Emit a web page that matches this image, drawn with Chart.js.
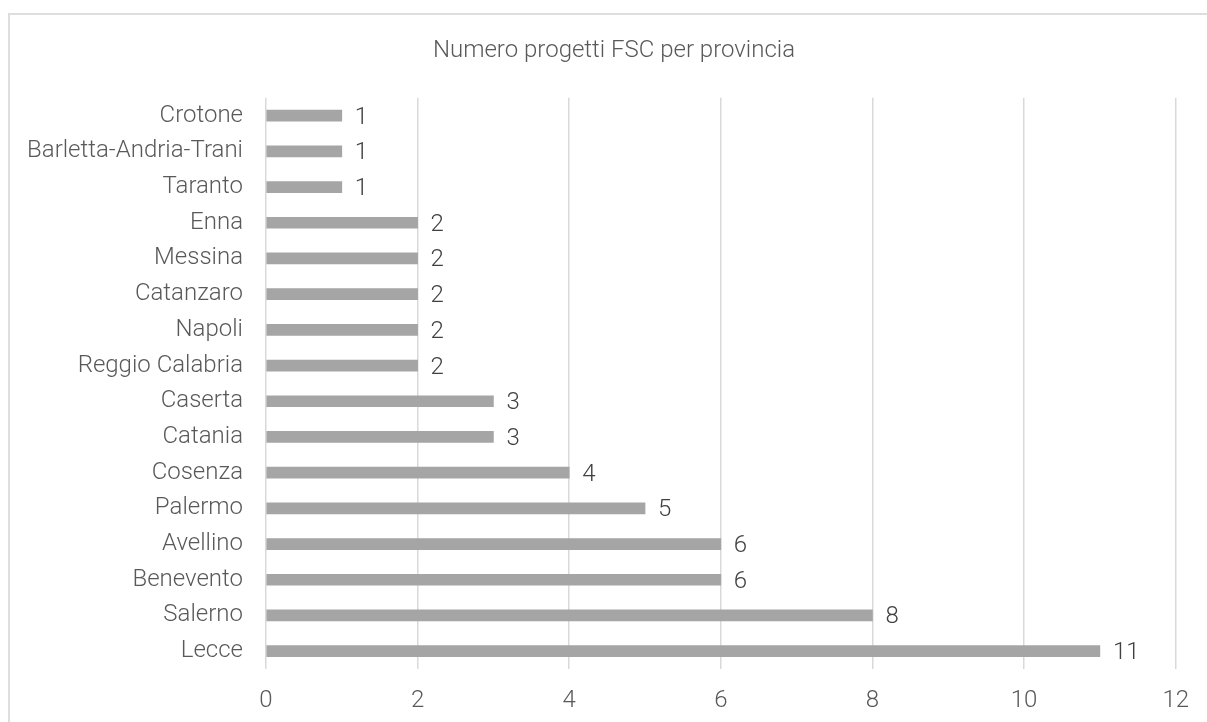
<!DOCTYPE html>
<html>
<head>
<meta charset="utf-8">
<script src="https://cdn.jsdelivr.net/npm/chart.js@4.4.0/dist/chart.umd.min.js"></script>
<style>
  html, body { margin: 0; padding: 0; background: #fff; overflow: hidden; }
  #frame { position: absolute; left: 8px; top: 13px; width: 1230px; height: 740px; border: 2px solid #dedede; }
  #wrap { position: absolute; left: 0; top: 0; width: 1207px; height: 722px; }
</style>
</head>
<body>
<div id="frame"></div>
<div id="wrap"><canvas id="chart" width="1207" height="722"></canvas></div>
<script>
const provinces = ['Crotone', 'Barletta-Andria-Trani', 'Taranto', 'Enna', 'Messina', 'Catanzaro', 'Napoli',
  'Reggio Calabria', 'Caserta', 'Catania', 'Cosenza', 'Palermo', 'Avellino', 'Benevento', 'Salerno', 'Lecce'];
const projects = [1, 1, 1, 2, 2, 2, 2, 2, 3, 3, 4, 5, 6, 6, 8, 11];
const xTicks = [0, 2, 4, 6, 8, 10, 12];
const chartTitle = 'Numero progetti FSC per provincia';

const fontFamily = 'Roboto, "Noto Sans", sans-serif';

// draws the value just right of each bar end
const valueLabels = {
  id: 'valueLabels',
  afterDatasetsDraw(chart) {
    const ctx = chart.ctx;
    const meta = chart.getDatasetMeta(0);
    ctx.save();
    ctx.font = '300 24px ' + fontFamily;
    ctx.fillStyle = '#404040';
    ctx.textAlign = 'left';
    ctx.textBaseline = 'middle';
    meta.data.forEach((bar, i) => {
      ctx.fillText(String(projects[i]), bar.x + 13, bar.y + 2);
    });
    ctx.restore();
  }
};

new Chart(document.getElementById('chart'), {
  type: 'bar',
  data: {
    labels: provinces,
    datasets: [{
      data: projects,
      backgroundColor: '#a5a5a5',
      barThickness: 11
    }]
  },
  options: {
    indexAxis: 'y',
    responsive: false,
    animation: false,
    layout: { padding: { left: 25, right: 4, top: 0, bottom: 0 } },
    plugins: {
      legend: { display: false },
      tooltip: { enabled: false },
      title: {
        display: true,
        text: chartTitle,
        color: '#595959',
        font: { family: fontFamily, size: 24, weight: '300' },
        padding: { top: 37, bottom: 32 }
      }
    },
    scales: {
      x: {
        min: 0,
        max: 12,
        afterBuildTicks(scale) { scale.ticks = xTicks.map(v => ({ value: v })); },
        afterFit(scale) { scale.height = 53; },
        grid: { color: '#d9d9d9', lineWidth: 1.5, drawTicks: false },
        border: { display: false },
        ticks: {
          padding: 18,
          color: '#595959',
          font: { family: fontFamily, size: 24, weight: '300' }
        }
      },
      y: {
        afterFit(scale) { scale.width = 241; },
        grid: { display: false, drawTicks: false },
        border: { display: false },
        ticks: {
          padding: 23,
          autoSkip: false,
          color: '#595959',
          font: { family: fontFamily, size: 24, weight: '300' }
        }
      },
      // empty right-hand axis, only keeps the right margin
      y2: {
        position: 'right',
        afterFit(scale) { scale.width = 27; },
        grid: { display: false, drawTicks: false },
        border: { display: false },
        ticks: { display: false }
      }
    }
  },
  plugins: [valueLabels]
});
</script>
</body>
</html>
